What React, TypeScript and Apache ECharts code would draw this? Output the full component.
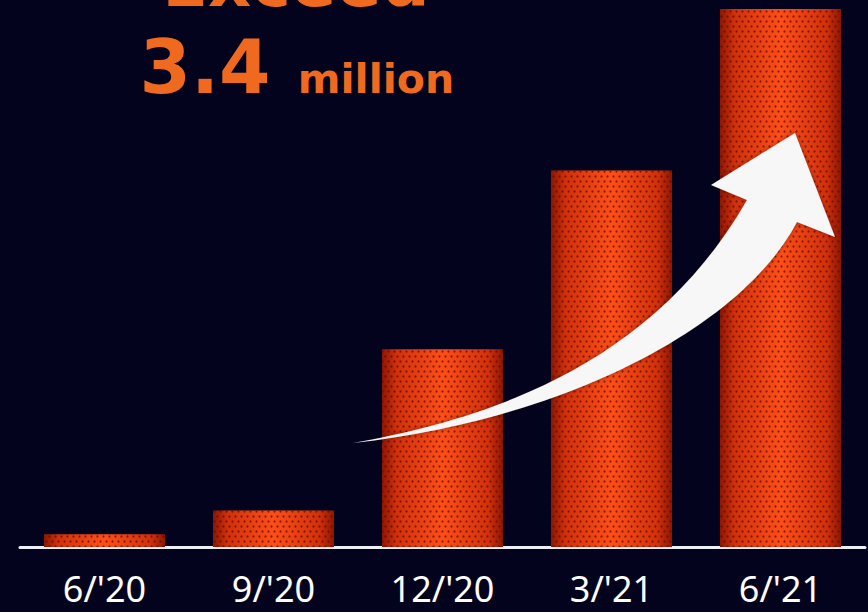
import React, { useEffect, useRef } from "react";
import * as echarts from "echarts";

const categories = ["6/'20", "9/'20", "12/'20", "3/'21", "6/'21"];
const values = [0.08, 0.23, 1.25, 2.38, 3.4]; // millions
const headline = "Exceed";
const bigNumber = "3.4";
const unit = "million";

const arrowD =
  "M 353 443 C 480 420 650 370 747 200 L 711 185 L 795 133 L 835 237 L 797 222 C 740 330 560 420 353 443 Z";

let registered = false;
function ensureShape() {
  if (registered) return;
  echarts.graphic.registerShape("arrowShape", echarts.graphic.extendPath(arrowD, {}));
  registered = true;
}

export default function App() {
  const ref = useRef<HTMLDivElement>(null);
  useEffect(() => {
    ensureShape();
    const chart = echarts.init(ref.current!, undefined, { renderer: "svg" });
    const orange = "#ef6a1f";
    chart.setOption({
      animation: false,
      backgroundColor: "#04031e",
      grid: { left: 20, right: 3, top: 9, bottom: 65 },
      xAxis: {
        type: "category",
        data: categories,
        axisLine: { show: true, lineStyle: { color: "#eceff6", width: 3 } },
        axisTick: { show: false },
        axisLabel: {
          color: "#ffffff",
          fontFamily: "'Noto Sans', sans-serif",
          fontSize: 36,
          lineHeight: 36,
          margin: 23,
        },
      },
      yAxis: {
        type: "value",
        min: 0,
        max: 3.4,
        show: false,
        splitLine: { show: false },
      },
      series: [
        {
          type: "bar",
          data: values,
          barWidth: "71.6%",
          itemStyle: {
            color: new echarts.graphic.LinearGradient(0, 0, 1, 0, [
              { offset: 0, color: "#8e1600" },
              { offset: 0.12, color: "#d2300a" },
              { offset: 0.5, color: "#ff4e16" },
              { offset: 0.88, color: "#d2300a" },
              { offset: 1, color: "#8e1600" },
            ]),
            decal: {
              symbol: "circle",
              symbolSize: 0.75,
              color: "rgba(90, 8, 0, 0.7)",
              dashArrayX: [
                [3, 3],
                [0, 3, 3, 0],
              ],
              dashArrayY: [3, 2],
            },
          },
        },
      ],
      graphic: [
        {
          type: "text",
          z: 100,
          style: {
            text: headline,
            x: 296,
            y: -17,
            fill: orange,
            font: "bold 67px 'DejaVu Sans', sans-serif",
            align: "center",
            verticalAlign: "middle",
          },
        },
        {
          type: "text",
          z: 100,
          style: {
            text: bigNumber,
            x: 205,
            y: 67,
            fill: orange,
            font: "bold 74px 'DejaVu Sans', sans-serif",
            align: "center",
            verticalAlign: "middle",
          },
        },
        {
          type: "text",
          z: 100,
          style: {
            text: unit,
            x: 376,
            y: 79,
            fill: orange,
            font: "bold 41px 'DejaVu Sans', sans-serif",
            align: "center",
            verticalAlign: "middle",
          },
        },
        {
          type: "arrowShape",
          z: 100,
          x: 0,
          y: 0,
          scaleX: 1,
          scaleY: 1,
          style: {
            fill: "#f7f7f7",
            shadowBlur: 4,
            shadowColor: "rgba(0,0,0,0.4)",
          },
        },
      ],
    });
    return () => chart.dispose();
  }, []);
  return (
    <div
      ref={ref}
      style={{ position: "fixed", left: 0, top: 0, width: 868, height: 612 }}
    />
  );
}
